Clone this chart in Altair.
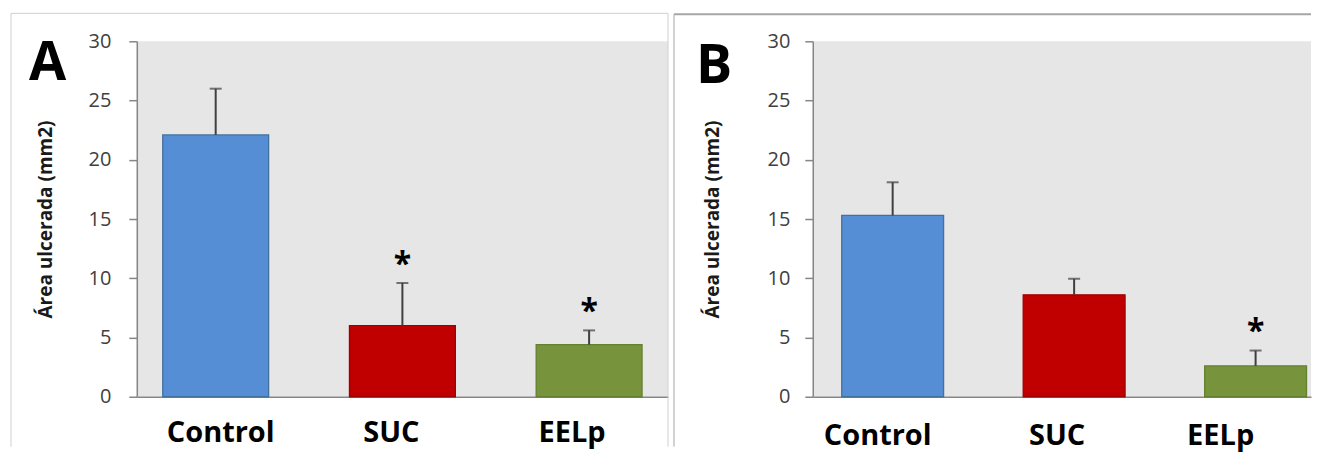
import altair as alt
import pandas as pd

# ---- data ----
groups = ["Control", "SUC", "EELp"]
a_means = [22.1, 6.0, 4.4]
a_upper = [26.0, 9.6, 5.6]
a_stars = ["", "*", "*"]
b_means = [15.3, 8.6, 2.6]
b_upper = [18.1, 9.95, 3.9]
b_stars = ["", "", "*"]
y_ticks = [0, 5, 10, 15, 20, 25, 30]
y_title = "Área ulcerada (mm2)"

FONT = "Open Sans"
FILLS = ["#558ED5", "#C00000", "#77933C"]
AXIS_GRAY = "#868686"
PLOT_H = 356


def label_offset(offsets):
    return {
        "condition": [
            {"test": "datum.value === 'Control'", "value": offsets[0]},
            {"test": "datum.value === 'SUC'", "value": offsets[1]},
        ],
        "value": offsets[2],
    }


def panel(letter, means, upper, stars, width, xscale, strokes, offsets,
          y_label_pad, x_label_pad, title_x, letter_x, letter_y,
          frame_color, frame_left, frame_top, frame_right, top_width):
    df = pd.DataFrame({"group": groups, "mean": means, "upper": upper, "star": stars})

    x_main = alt.X(
        "group:N", sort=groups, scale=xscale, title=None,
        axis=alt.Axis(
            labelAngle=0, ticks=False, tickSize=0, domainColor=AXIS_GRAY, domainWidth=1.5,
            labelFont=FONT, labelFontSize=29, labelFontWeight="bold", labelColor="black",
            labelPadding=x_label_pad, labelOffset=label_offset(offsets),
        ),
    )
    x = alt.X("group:N", sort=groups)
    y_main = alt.Y(
        "mean:Q", scale=alt.Scale(domain=[0, 30], nice=False),
        axis=alt.Axis(
            values=y_ticks, grid=False, tickSize=8, tickColor=AXIS_GRAY, tickWidth=1.5,
            domainColor=AXIS_GRAY, domainWidth=1.5, labelFont=FONT, labelFontSize=20,
            labelColor="#404040", labelPadding=y_label_pad, title=y_title,
            titleFont=FONT, titleFontSize=19, titleFontWeight="bold", titleColor="#1a1a1a",
            titleAngle=270, titleAlign="center", titleBaseline="alphabetic",
            titleX=title_x, titleY=PLOT_H / 2,
        ),
    )

    base = alt.Chart(df)
    bars = base.mark_bar(strokeWidth=1.3).encode(
        x=x_main, y=y_main,
        color=alt.Color("group:N", scale=alt.Scale(domain=groups, range=FILLS), legend=None),
        stroke=alt.Stroke("group:N", scale=alt.Scale(domain=groups, range=strokes), legend=None),
    )
    err = base.mark_rule(color="#3f3f3f", strokeWidth=2).encode(
        x=x, y="mean:Q", y2="upper:Q"
    )
    caps = base.mark_tick(color="#3f3f3f", thickness=2, size=12).encode(
        x=x, y="upper:Q"
    )
    star = base.transform_filter("datum.star != ''").transform_calculate(
        star_y="datum.upper + 2.2"
    ).mark_text(font=FONT, fontSize=32, fontWeight="bold", color="black",
                baseline="alphabetic", dy=18).encode(
        x=x, y="star_y:Q", text="star:N"
    )

    one = pd.DataFrame({"t": [letter]})
    letter_txt = alt.Chart(one).mark_text(
        font=FONT, fontSize=54, fontWeight="bold", color="black",
        align="left", baseline="alphabetic",
    ).encode(x=alt.value(letter_x), y=alt.value(letter_y), text="t:N")

    bottom = 406
    frames = [
        alt.Chart(one).mark_rule(color=frame_color, strokeWidth=1).encode(
            x=alt.value(frame_left), y=alt.value(frame_top), y2=alt.value(bottom)),
        alt.Chart(one).mark_rule(color=frame_color, strokeWidth=top_width).encode(
            x=alt.value(frame_left), x2=alt.value(frame_right), y=alt.value(frame_top)),
    ]
    if letter == "A":
        frames.append(alt.Chart(one).mark_rule(color=frame_color, strokeWidth=1).encode(
            x=alt.value(width), y=alt.value(frame_top), y2=alt.value(bottom)))

    return alt.layer(bars, err, caps, star, letter_txt, *frames).properties(
        width=width, height=PLOT_H
    )


panel_a = panel(
    "A", a_means, a_upper, a_stars, 532,
    alt.Scale(paddingInner=0.433, paddingOuter=0.139),
    ["#41719C", "#9E0000", "#63802F"], [5, -11, -17],
    18, 22, -85, -108, 39,
    "#cfcfcf", -126, -28, 532, 1,
)
panel_b = panel(
    "B", b_means, b_upper, b_stars, 499,
    alt.Scale(paddingInner=0.4388, paddingOuter=0.0922, align=0.866),
    ["#41719C", "#4BACC6", "#C0804D"], [-15, -17, -35],
    15, 25, -94, -117, 42,
    "#a6a6a6", -139, -27, 499, 2,
)

chart = alt.hconcat(panel_a, panel_b, spacing=4).properties(
    padding={"left": 2, "top": 4, "right": 0, "bottom": 4},
    background="white",
).configure_view(fill="#E6E6E6", strokeWidth=0)

chart.save("out.html", embed_options={"renderer": "svg", "actions": False})
